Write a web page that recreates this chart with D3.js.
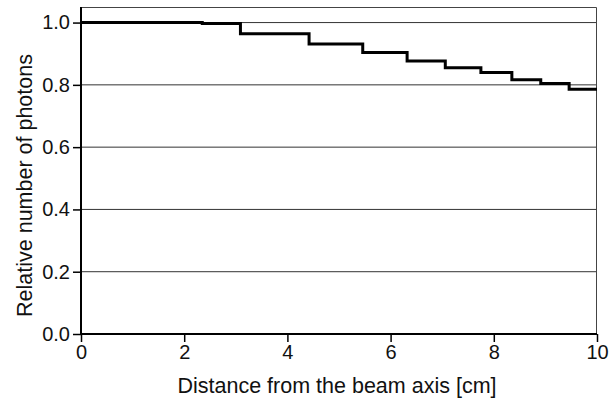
<!DOCTYPE html>
<html>
<head>
<meta charset="utf-8">
<script src="https://cdn.jsdelivr.net/npm/d3@7"></script>
<style>
  body { margin: 0; background: #fff; }
  text { font-family: "Liberation Sans", Arial, sans-serif; fill: #111; }
</style>
</head>
<body>
<div id="chart"></div>
<script>
// step edges (cm) and level of each step
const stepEdges = [0, 2.35, 3.09, 4.42, 5.46, 6.32, 7.06, 7.75, 8.35, 8.91, 9.46, 10];
const stepValues = [1.0, 0.997, 0.964, 0.931, 0.904, 0.877, 0.855, 0.840, 0.816, 0.804, 0.786];
const xTicks = [0, 2, 4, 6, 8, 10];
const yTicks = [0.0, 0.2, 0.4, 0.6, 0.8, 1.0];

const margin = {top: 7, right: 18, bottom: 69, left: 81};
const width = 615 - margin.left - margin.right;
const height = 403 - margin.top - margin.bottom;

const svg = d3.select("#chart")
  .append("svg")
    .attr("width", 615)
    .attr("height", 403)
  .append("g")
    .attr("transform", `translate(${margin.left},${margin.top})`);

const x = d3.scaleLinear().domain([0, 10]).range([0, width]);
const y = d3.scaleLinear().domain([0, 1.05]).range([height, 0]);

// grid
svg.append("g")
  .selectAll("line")
  .data(yTicks.filter(d => d > 0))
  .enter()
  .append("line")
    .attr("x1", 0)
    .attr("x2", width)
    .attr("y1", d => y(d))
    .attr("y2", d => y(d))
    .attr("stroke", "#333")
    .attr("stroke-width", 1);

// frame top/right
svg.append("path")
  .attr("d", `M0,0.5H${width - 0.5}V${height}`)
  .attr("fill", "none")
  .attr("stroke", "#444")
  .attr("stroke-width", 1);

// step line
const pts = [];
stepValues.forEach((v, i) => {
  pts.push([stepEdges[i], v]);
  pts.push([stepEdges[i + 1], v]);
});
svg.append("path")
  .datum(pts)
  .attr("fill", "none")
  .attr("stroke", "#000")
  .attr("stroke-width", 3)
  .attr("d", d3.line().x(d => x(d[0])).y(d => y(d[1])));

// axes
const xAxis = svg.append("g")
  .attr("transform", `translate(0,${height})`)
  .call(d3.axisBottom(x).tickValues(xTicks).tickSize(8).tickPadding(3).tickFormat(d3.format("d")));
const yAxis = svg.append("g")
  .call(d3.axisLeft(y).tickValues(yTicks).tickSize(8).tickPadding(3).tickFormat(d3.format(".1f")));

[xAxis, yAxis].forEach(a => {
  a.select(".domain").attr("stroke", "#000").attr("stroke-width", 2);
  a.selectAll(".tick line").attr("stroke", "#000").attr("stroke-width", 1.5);
  a.selectAll("text")
    .style("font-size", "20px")
    .style("font-family", "Liberation Sans, Arial, sans-serif")
    .attr("fill", "#111");
});
yAxis.selectAll(".domain").attr("d", `M0,${height}V0`);
xAxis.selectAll(".domain").attr("d", `M0,0H${width}`);

// labels
svg.append("text")
  .attr("x", width / 2 - 2)
  .attr("y", height + 59)
  .attr("text-anchor", "middle")
  .style("font-size", "21.5px")
  .text("Distance from the beam axis [cm]");

svg.append("text")
  .attr("transform", `translate(${-49},${height / 2 + 15}) rotate(-90)`)
  .attr("text-anchor", "middle")
  .style("font-size", "21.5px")
  .text("Relative number of photons");
</script>
</body>
</html>
